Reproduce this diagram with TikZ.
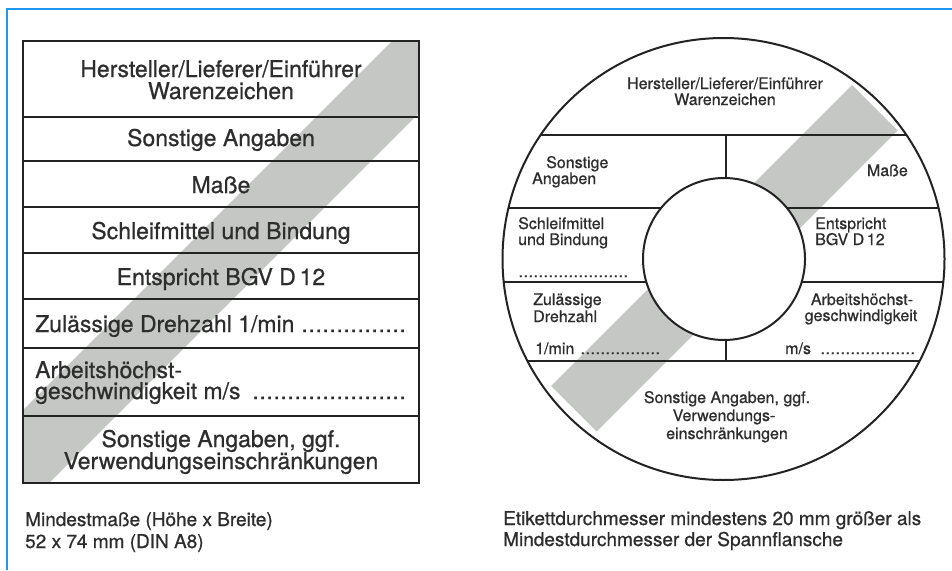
\documentclass[tikz,border=0pt]{standalone}
\usepackage{fontspec}
\setmainfont[FakeBold=0.7]{TeX Gyre Heros}
\definecolor{frameblue}{RGB}{33,150,243}
\definecolor{ink}{RGB}{35,35,35}
\definecolor{txt}{RGB}{45,45,45}
\definecolor{stripegray}{RGB}{196,199,196}
\newcommand\dotrow[3]{\makebox[#1][l]{#2\leaders\hbox to #3{\hss.\hss}\hfill}}
\tikzset{
  rt/.style={inner sep=0pt, anchor=base, text=txt, font=\fontsize{23}{23}\selectfont},
  ct/.style={inner sep=0pt, anchor=base, text=txt, font=\fontsize{16}{16}\selectfont},
  capt/.style={inner sep=0pt, anchor=base west, text=txt, font=\fontsize{19}{19}\selectfont},
  border/.style={draw=ink, line width=2pt},
  rule/.style={draw=ink, line width=1.6pt},
  band/.style={fill=stripegray}
}
\begin{document}
\begin{tikzpicture}[x=1pt,y=-1pt]
\useasboundingbox (0,0) rectangle (952,570);
\fill[white] (0,0) rectangle (952,570);
% blue frame
\draw[frameblue, line width=2.5pt] (952,9) -- (7,9) -- (7,570);

% ---------- left rectangular label ----------
\begin{scope}
  \clip (23,41) rectangle (419,483);
  \fill[band] (433,0) -- (532,0) -- (32,500) -- (-67,500) -- cycle;
\end{scope}
\foreach \yy in {117,161,207,253,299,348,416} {
  \draw[rule] (23,\yy) -- (419,\yy);
}
\draw[border] (23,41) rectangle (419,483);

\node[rt] (r1a) at (221,77) {Hersteller/Lieferer/Einführer};
\node[rt] (r1b) at (221,99) {Warenzeichen};
\node[rt] (r2) at (221,146) {Sonstige Angaben};
\node[rt] (r3) at (221,193) {Maße};
\node[rt] (r4) at (221,239) {Schleifmittel und Bindung};
\node[rt] (r5) at (221,285) {Entspricht BGV D\,12};
\node[rt, anchor=base west] (r6) at (35,332) {\dotrow{373pt}{Zulässige Drehzahl 1/min }{7pt}};
\node[rt, anchor=base west] (r7a) at (35,378) {Arbeitshöchst-};
\node[rt, anchor=base west] (r7b) at (35,399) {\dotrow{373pt}{geschwindigkeit m/s }{7pt}};
\node[rt] (r8a) at (221,447) {Sonstige Angaben, ggf.};
\node[rt] (r8b) at (221,469) {Verwendungseinschränkungen};

\node[capt] (c1a) at (25,526) {Mindestmaße (Höhe x Breite)};
\node[capt] (c1b) at (25,548) {52 x 74 mm (DIN A8)};

% ---------- right circular label ----------
\begin{scope}
  \clip (723.5,259) circle (221);
  \fill[band] (852,85) -- (897.5,130.5) -- (596.5,431.5) -- (551,386) -- cycle;
  \draw[rule] (480,135) -- (960,135);
  \draw[rule] (480,208) -- (960,208);
  \draw[rule] (480,282) -- (960,282);
  \draw[rule] (480,361) -- (960,361);
  \draw[rule] (726,135) -- (726,361);
\end{scope}
\draw[border, fill=white] (724,259) circle (81);
\draw[border] (723.5,259) circle (221);

\node[ct] (k1a) at (725,89) {Hersteller/Lieferer/Einführer};
\node[ct] (k1b) at (725,105) {Warenzeichen};
\node[ct, anchor=base west] (k2a) at (546,168) {Sonstige};
\node[ct, anchor=base west] (k2b) at (532,184) {Angaben};
\node[ct, anchor=base east] (k3) at (908,176) {Maße};
\node[ct, anchor=base west] (k4a) at (518,229) {Schleifmittel};
\node[ct, anchor=base west] (k4b) at (518,245) {und Bindung};
\node[ct, anchor=base west] (k4c) at (518,277) {\dotrow{114pt}{}{5pt}};
\node[ct, anchor=base west] (k5a) at (815,229) {Entspricht};
\node[ct, anchor=base west] (k5b) at (815,245) {BGV D\,12};
\node[ct, anchor=base west] (k6a) at (533,305) {Zulässige};
\node[ct, anchor=base west] (k6b) at (533,322) {Drehzahl};
\node[ct, anchor=base west] (k6c) at (535,354) {\dotrow{128pt}{1/min }{5pt}};
\node[ct] (k7a) at (862,305) {Arbeitshöchst-};
\node[ct] (k7b) at (861,321) {geschwindigkeit};
\node[ct, anchor=base west] (k7c) at (785,354) {\dotrow{130pt}{m/s }{5pt}};
\node[ct] (k8a) at (727,403) {Sonstige Angaben, ggf.};
\node[ct] (k8b) at (724,421) {Verwendungs-};
\node[ct] (k8c) at (727,439) {einschränkungen};

\node[capt] (c2a) at (503,525) {Etikettdurchmesser mindestens 20 mm größer als};
\node[capt] (c2b) at (503,546) {Mindestdurchmesser der Spannflansche};
\end{tikzpicture}
\end{document}
